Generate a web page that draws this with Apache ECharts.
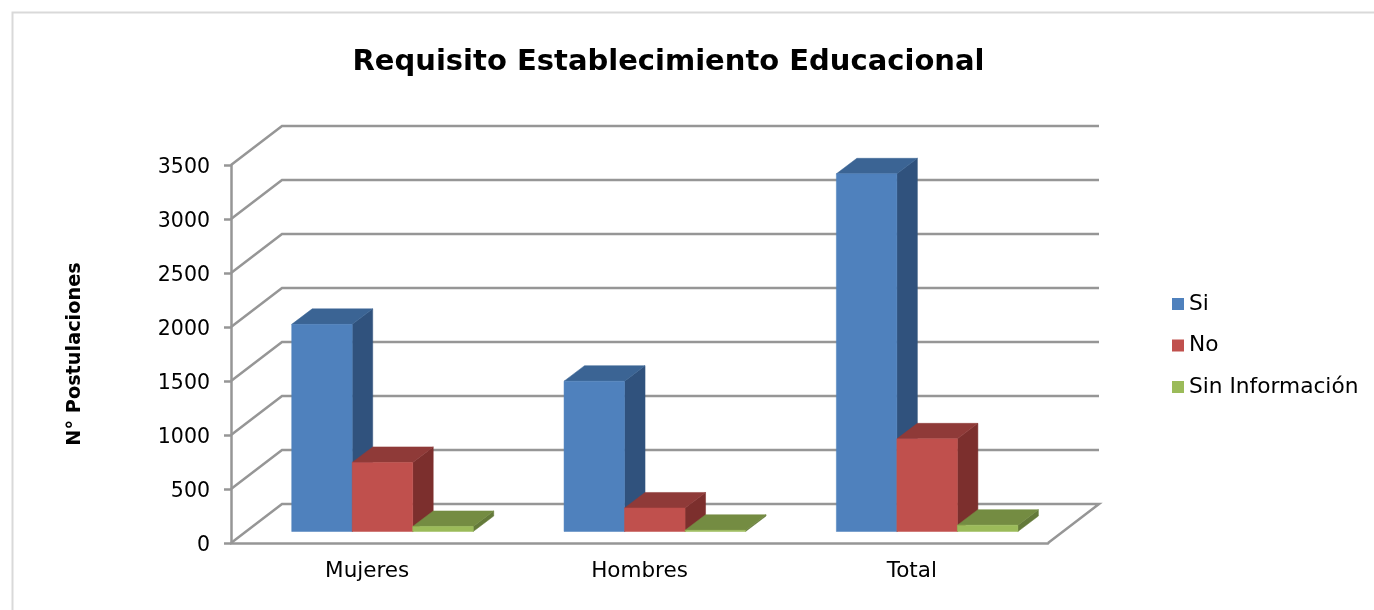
<!DOCTYPE html>
<html><head><meta charset="utf-8">
<style>html,body{margin:0;padding:0;background:#fff}#c{width:1374px;height:610px}</style>
<script src="https://cdn.jsdelivr.net/npm/echarts@6/dist/echarts.min.js"></script>
</head><body><div id="c"></div>
<script>
const categories = ['Mujeres','Hombres','Total'];
const si = [1918,1392,3312];
const no = [640,218,858];
const sinInfo = [47,12,59];
const yTicks = [0,500,1000,1500,2000,2500,3000,3500];

const FONT = '"DejaVu Sans", sans-serif';
const WALL = [51,-39], BASE = [15.3,-11.5], DEPTH = [20.5,-15.5], BAR_RATIO = 60.5/272.3;
const LINE = '#969696';

function barSeries(name, values, offset, front, top, side){
  return {
    name, type:'custom', coordinateSystem:'cartesian2d', z:3,
    itemStyle:{color:front},
    encode:{x:0,y:1},
    data: values.map((v,i)=>[i,v]),
    renderItem(params, api){
      const w = api.size([1,0])[0]*BAR_RATIO;
      const a = api.coord([api.value(0),0]);
      const b = api.coord([api.value(0),api.value(1)]);
      const x0 = a[0]+BASE[0]+(offset-1.5)*w, x1 = x0+w;
      const y0 = a[1]+BASE[1], y1 = b[1]+BASE[1];
      const dx = DEPTH[0], dy = DEPTH[1];
      const poly = (points,fill)=>({type:'polygon',shape:{points},style:{fill,stroke:fill,lineWidth:0.5}});
      return {type:'group',children:[
        poly([[x1,y0],[x1+dx,y0+dy],[x1+dx,y1+dy],[x1,y1]],side),
        poly([[x0,y1],[x1,y1],[x1+dx,y1+dy],[x0+dx,y1+dy]],top),
        poly([[x0,y0],[x1,y0],[x1,y1],[x0,y1]],front)
      ]};
    }
  };
}

const wallSeries = {
  type:'custom', coordinateSystem:'cartesian2d', z:1, silent:true, legendHoverLink:false,
  encode:{y:1},
  data: yTicks.map(v=>[0,v]),
  renderItem(params, api){
    const cs = params.coordSys;
    const y = api.coord([0,api.value(1)])[1];
    const pts = [[cs.x,y],[cs.x+WALL[0],y+WALL[1]],[cs.x+cs.width+WALL[0],y+WALL[1]]];
    if(api.value(1)===0) pts.push([cs.x+cs.width,y]);
    return {type:'polyline',shape:{points:pts},style:{fill:'none',stroke:LINE,lineWidth:2.5}};
  }
};

const chart = echarts.init(document.getElementById('c'),null,{renderer:'canvas'});
chart.setOption({
  animation:false,
  backgroundColor:'#fff',
  title:{text:'Requisito Establecimiento Educacional',left:663.5,top:57,textAlign:'center',textVerticalAlign:'middle',
    textStyle:{fontFamily:FONT,fontSize:29,fontWeight:'bold',color:'#000'}},
  graphic:[{type:'rect',silent:true,z:-1,shape:{x:12.5,y:12.5,width:1400,height:700},
    style:{fill:'none',stroke:'#d9d9d9',lineWidth:2}}],
  legend:{orient:'vertical',left:1172,top:293,padding:0,itemWidth:12,itemHeight:12,itemGap:19.5,icon:'rect',
    data:['Si','No','Sin Información'],
    textStyle:{fontFamily:FONT,fontSize:21.7,color:'#000',lineHeight:20}},
  grid:{left:231,top:165,width:817,height:378,containLabel:false},
  xAxis:{type:'category',data:categories,
    axisLine:{show:true,lineStyle:{color:LINE,width:2.5}},axisTick:{show:false},
    axisLabel:{margin:17,fontFamily:FONT,fontSize:21.5,color:'#000'},splitLine:{show:false}},
  yAxis:{type:'value',min:0,max:3500,interval:500,
    name:'N° Postulaciones',nameLocation:'middle',nameGap:147,nameRotate:90,
    nameTextStyle:{fontFamily:FONT,fontSize:19.3,fontWeight:'bold',color:'#000'},
    axisLine:{show:true,lineStyle:{color:LINE,width:2.5}},
    axisTick:{show:true,length:7,lineStyle:{color:LINE,width:2.5}},
    axisLabel:{margin:21,fontFamily:FONT,fontSize:20.5,color:'#000',verticalAlign:'top',lineHeight:5,formatter:v=>String(v)},splitLine:{show:false}},
  series:[
    wallSeries,
    barSeries('Si',si,0,'#4f81bd','#3b6494','#30527d'),
    barSeries('No',no,1,'#c0504d','#8f3a38','#7c2f2d'),
    barSeries('Sin Información',sinInfo,2,'#9bbb59','#748c42','#647a3a')
  ]
});
</script></body></html>
